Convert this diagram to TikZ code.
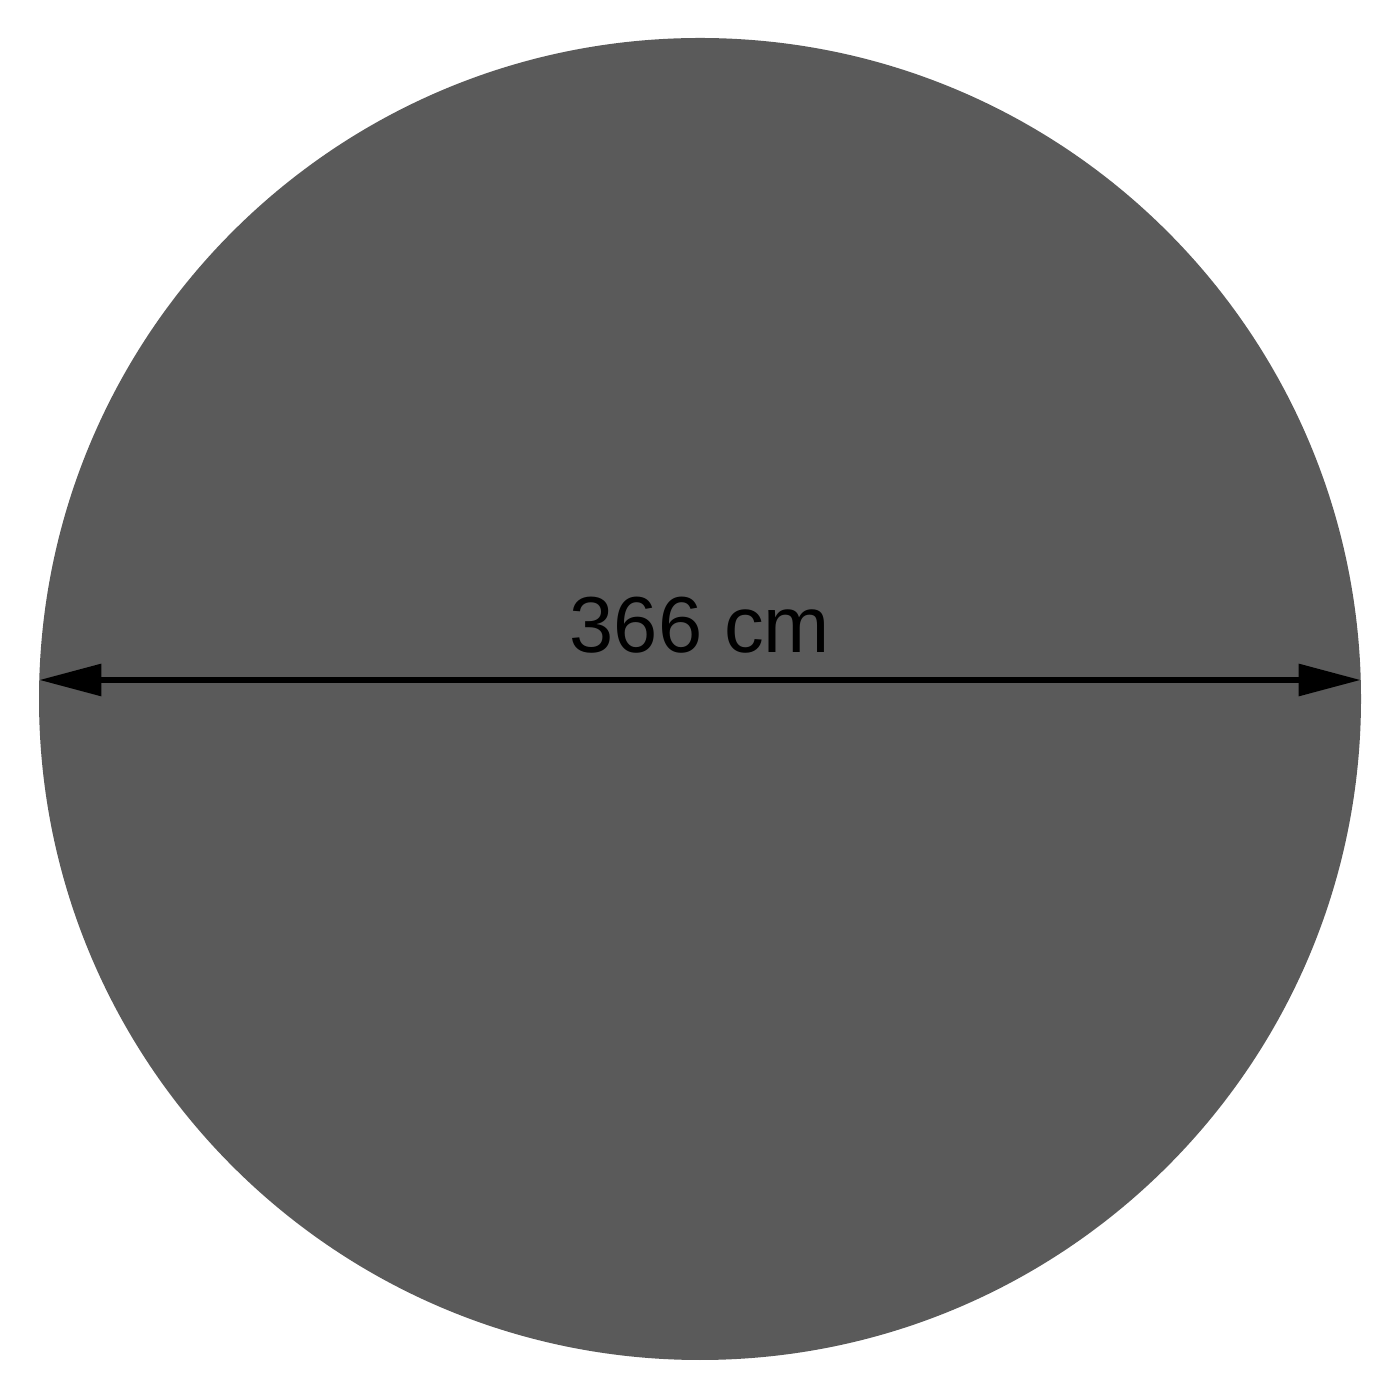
\documentclass[tikz,border=0pt]{standalone}
\usepackage{fontspec}
\setmainfont{Liberation Sans}
\usetikzlibrary{arrows.meta}
\definecolor{discgray}{HTML}{5A5A5A}
\begin{document}
\begin{tikzpicture}
\useasboundingbox[fill=white] (0,0) rectangle (14,14);
\node[circle, fill=discgray, inner sep=0, minimum size=13.22cm] (disc) at (7,7.01){};
\coordinate (dl) at (0.393,7.20);
\coordinate (dr) at (13.607,7.20);
\draw[line width=1.7pt, {Triangle[length=6.2mm, width=3.1mm]}-{Triangle[length=6.2mm, width=3.1mm]}](dl) -- (dr);
\node[anchor=base, inner sep=0, font=\fontsize{22.6}{27}\selectfont] (size) at (7,7.47){366 cm};
\end{tikzpicture}
\end{document}
